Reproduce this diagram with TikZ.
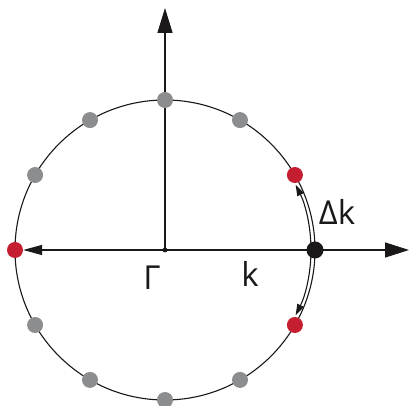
\documentclass[tikz,border=0pt]{standalone}
\usepackage{fontspec}
\setmainfont{Open Sans}
\usetikzlibrary{arrows.meta}
\definecolor{ink}{RGB}{26,24,24}
\definecolor{dotred}{RGB}{196,30,48}
\definecolor{dotgray}{RGB}{140,141,143}

\begin{document}
\begin{tikzpicture}[x=1pt,y=1pt,line cap=round,line join=round]
\useasboundingbox (0,0) rectangle (409,406);
\tikzset{dot/.style={circle,inner sep=0pt,minimum size=16pt},
  lbl/.style={font=\fontsize{33}{40}\selectfont,text=ink}}
\coordinate (O) at (165,156);
\coordinate (top) at (165,398);
\coordinate (right) at (409,156);
\draw[ink,line width=1.1pt] (O) circle[radius=150];
% axes
\draw[ink,line width=1.4pt,-{Triangle[length=25pt,width=15pt]}] (O) -- (top);
\draw[ink,line width=1.4pt,-{Triangle[length=24pt,width=15pt]}] (O) -- (right);
% dots on the ring
\foreach \a in {60,90,120,150,210,240,270,300}
  \node[dot,fill=dotgray] (g\a) at ([shift={(\a:150)}]O) {};
\node[dot,fill=dotred] (west) at ([shift={(180:150)}]O) {};
\node[dot,fill=dotred] (up) at ([shift={(30:150)}]O) {};
\node[dot,fill=dotred] (down) at ([shift={(-30:150)}]O) {};
\node[dot,fill=ink,minimum size=17pt] (k0) at ([shift={(0:150)}]O) {};
\draw[ink,line width=1.4pt,-{Triangle[length=19pt,width=10pt]}] (O) -- (west);
\fill[ink] (O) circle[radius=2.4];
% step arrows
\draw[ink,line width=1.1pt,-{Triangle[length=11pt,width=7pt]}] ([shift={(0:146)}]O) arc[start angle=0,end angle=26.5,radius=146];
\draw[ink,line width=1.1pt,-{Triangle[length=11pt,width=7pt]}] ([shift={(0:146)}]O) arc[start angle=0,end angle=-26.5,radius=146];
% labels
\node[lbl] (gamma) at (152,128) {Γ};
\node[lbl] (kk) at (250,132) {k};
\node[lbl] (dk) at (337,194) {Δk};
\end{tikzpicture}
\end{document}
